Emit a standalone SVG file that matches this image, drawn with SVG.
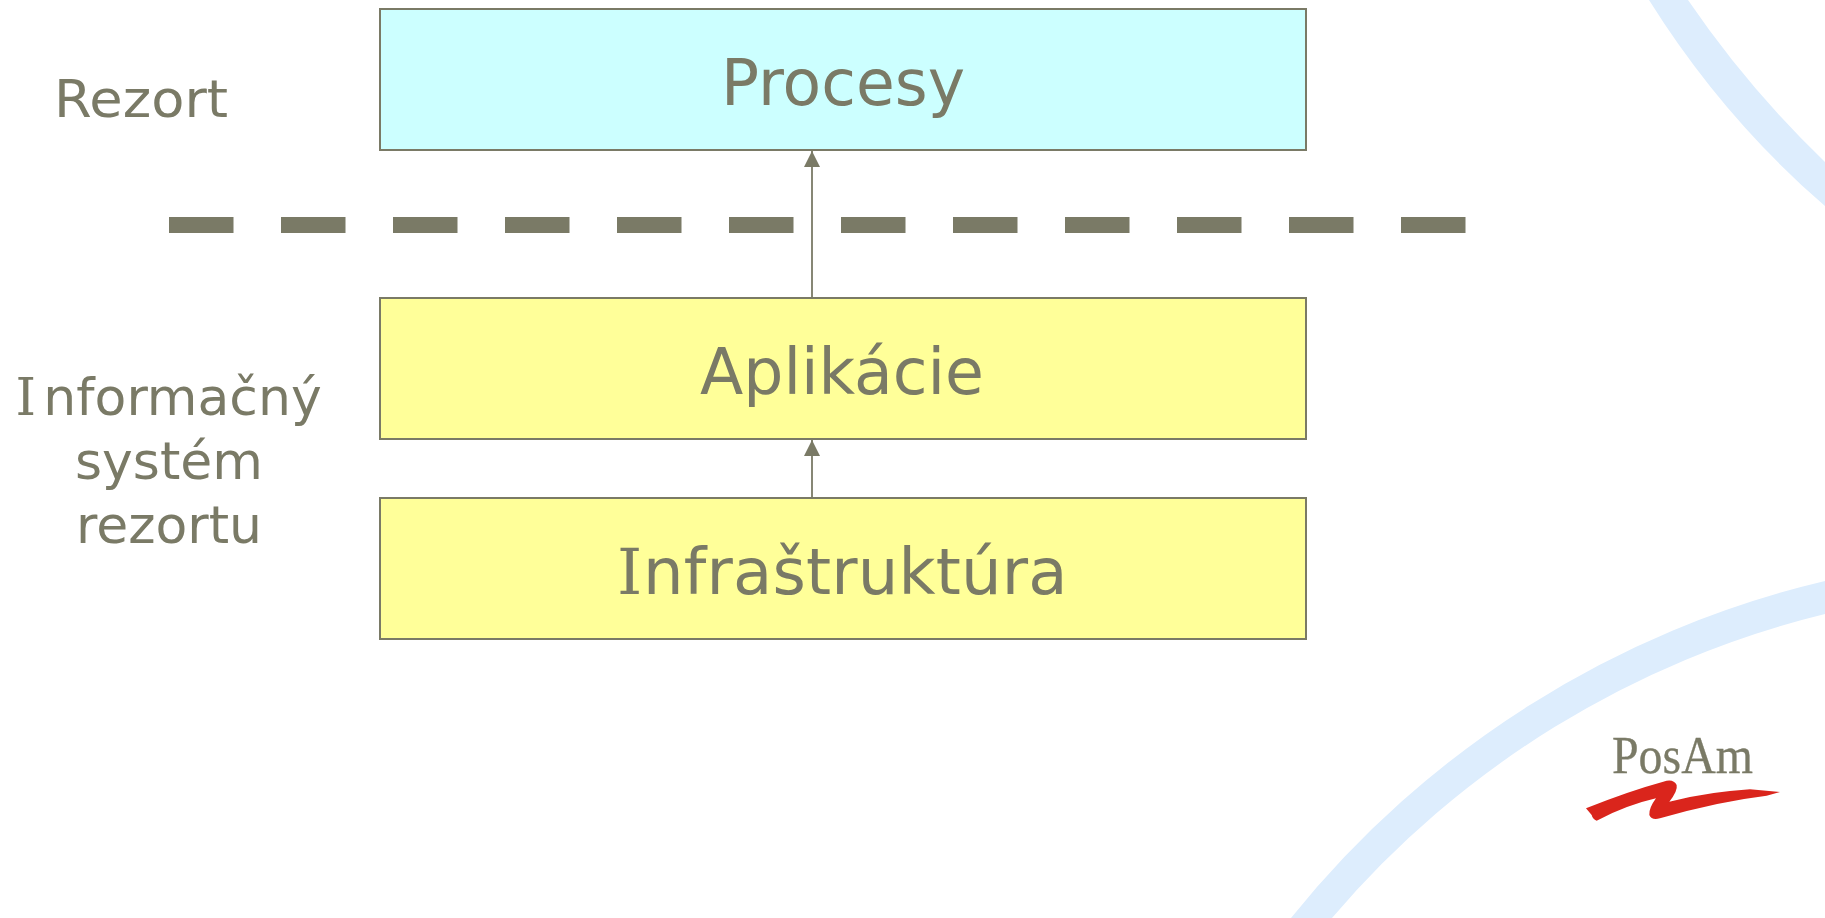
<svg xmlns="http://www.w3.org/2000/svg" width="1825" height="918" viewBox="0 0 1825 918">
<style>
.box{stroke:#7a7a66;stroke-width:2}
.t{font-family:"DejaVu Sans",Verdana,sans-serif;fill:#7a7a66}
.m{text-anchor:middle}
.big{font-size:64px}
.side{font-size:52px}
.ser{font-family:"DejaVu Serif",serif}
.conn{stroke:#7a7a66;stroke-width:1.8;fill:none}
</style>
<defs>
<marker id="arrow" markerUnits="userSpaceOnUse" markerWidth="16" markerHeight="16" refX="16" refY="8" orient="auto"><path d="M0 0L16 8L0 16Z" fill="#7a7a66"/></marker>
</defs>
<rect width="1825" height="918" fill="#fff"/>
<g id="decor" fill="#ddedfd">
<path d="M1649 0Q1723 118 1825 206V162Q1748 88 1688 0Z"/>
<path d="M1825 581A972 972 0 0 0 1291 918H1332A940 940 0 0 1 1825 614Z"/>
</g>
<g id="procesy"><rect class="box" x="380" y="9" width="926" height="141" fill="#ccffff"/><text class="t m big" x="843" y="105" textLength="244" lengthAdjust="spacingAndGlyphs">Procesy</text></g>
<g id="aplikacie"><rect class="box" x="380" y="298" width="926" height="141" fill="#ffff99"/><text class="t m big" x="842" y="394" textLength="284" lengthAdjust="spacingAndGlyphs">Aplikácie</text></g>
<g id="infrastruktura"><rect class="box" x="380" y="498" width="926" height="141" fill="#ffff99"/><text class="t big" y="594" letter-spacing=".2"><tspan class="ser" x="617">I</tspan><tspan x="643">nfraštruktúra</tspan></text></g>
<g id="rezort"><text class="t m side" x="141" y="117" textLength="174" lengthAdjust="spacingAndGlyphs">Rezort</text></g>
<g id="is"><text class="t side" y="415"><tspan class="ser" x="15.4">I</tspan><tspan x="43.3">nformačný</tspan></text><text class="t m side" x="169" y="479">systém</text><text class="t m side" x="169" y="543">rezortu</text></g>
<g id="divider"><line x1="169" y1="225" x2="1466" y2="225" stroke="#7a7a66" stroke-width="16" stroke-dasharray="64.5 47.5"/></g>
<g id="connectors">
<line class="conn" x1="812" y1="298" x2="812" y2="151" marker-end="url(#arrow)"/>
<line class="conn" x1="812" y1="498" x2="812" y2="440" marker-end="url(#arrow)"/>
</g>
<g id="logo">
<text x="1612" y="773" font-family="Liberation Serif,serif" font-size="53" fill="#7a7a66" stroke="#7a7a66" stroke-width=".3" textLength="141" lengthAdjust="spacingAndGlyphs">PosAm</text>
<path transform="translate(1550 700) scale(.3333)" fill="#da251c" d="M108 325Q230 275 350 242Q372 238 380 255Q384 272 358 305Q480 275 600 268L690 276L650 287Q500 305 330 355Q305 362 298 345Q296 325 318 295Q230 315 140 362Q128 358 125 345Z"/>
</g>
</svg>
